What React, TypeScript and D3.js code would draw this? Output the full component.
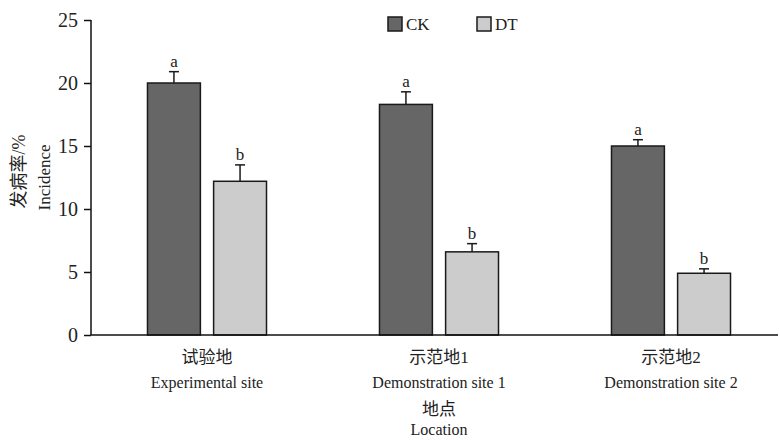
import React, { useEffect, useRef } from 'react';
import * as d3 from 'd3';

const sitesZh = ['试验地', '示范地1', '示范地2'];
const sitesEn = ['Experimental site', 'Demonstration site 1', 'Demonstration site 2'];
const groups = ['CK', 'DT'];
const ckValues = [20.0, 18.3, 15.0];
const ckErrors = [0.9, 1.0, 0.5];
const dtValues = [12.2, 6.6, 4.9];
const dtErrors = [1.3, 0.65, 0.35];
const ckLetters = ['a', 'a', 'a'];
const dtLetters = ['b', 'b', 'b'];
const yTicks = [0, 5, 10, 15, 20, 25];

const colors: Record<string, string> = { CK: '#666666', DT: '#cccccc' };
const FONT = 'Liberation Serif, DejaVu Serif, Noto Sans CJK SC, serif';

export default function App() {
    const svgRef = useRef<SVGSVGElement>(null);

    useEffect(() => {
        const svg = d3.select(svgRef.current);
        svg.selectAll('*').remove();

        const width = 780;
        const height = 440;
        const margin = { top: 20, right: 2, bottom: 105, left: 91 };
        const y0 = height - margin.bottom;

        const y = d3.scaleLinear().domain([0, 25]).range([y0, margin.top]);

        const x = d3.scaleBand<string>()
            .domain(sitesZh)
            .range([margin.left, margin.left + 696])
            .paddingInner(0.487)
            .paddingOuter(0.2435);

        const xSub = d3.scaleBand<string>()
            .domain(groups)
            .range([0, x.bandwidth()])
            .paddingInner(0.2);

        const rows = sitesZh.flatMap((s, i) => [
            { site: s, key: 'CK', value: ckValues[i], err: ckErrors[i], letter: ckLetters[i] },
            { site: s, key: 'DT', value: dtValues[i], err: dtErrors[i], letter: dtLetters[i] }
        ]);

        const g = svg.append('g');

        const label = (xx: number, yy: number, txt: string, size = 16, anchor = 'middle') =>
            g.append('text')
                .attr('x', xx).attr('y', yy)
                .attr('text-anchor', anchor)
                .attr('font-family', FONT)
                .attr('font-size', size)
                .attr('fill', '#222')
                .text(txt);

        // Bars
        g.selectAll('rect.bar')
            .data(rows)
            .enter()
            .append('rect')
            .attr('class', 'bar')
            .attr('x', (d) => (x(d.site) as number) + (xSub(d.key) as number))
            .attr('y', (d) => y(d.value))
            .attr('width', xSub.bandwidth())
            .attr('height', (d) => y0 - y(d.value))
            .attr('fill', (d) => colors[d.key])
            .attr('stroke', '#1a1a1a')
            .attr('stroke-width', 1.5);

        // Error bars
        const cx = (d: any) => (x(d.site) as number) + (xSub(d.key) as number) + xSub.bandwidth() / 2;
        const eb = g.selectAll('g.err').data(rows).enter().append('g').attr('class', 'err');
        eb.append('line')
            .attr('x1', cx).attr('x2', cx)
            .attr('y1', (d) => y(d.value)).attr('y2', (d) => y(d.value + d.err))
            .attr('stroke', '#1a1a1a').attr('stroke-width', 1.5);
        eb.append('line')
            .attr('x1', (d) => cx(d) - 5).attr('x2', (d) => cx(d) + 5)
            .attr('y1', (d) => y(d.value + d.err)).attr('y2', (d) => y(d.value + d.err))
            .attr('stroke', '#1a1a1a').attr('stroke-width', 1.5);
        eb.append('text')
            .attr('x', cx)
            .attr('y', (d) => y(d.value + d.err) - 5)
            .attr('text-anchor', 'middle')
            .attr('font-family', FONT)
            .attr('font-size', 17)
            .attr('fill', '#222')
            .text((d) => d.letter);

        // Y axis
        const yAxis = g.append('g')
            .attr('transform', `translate(${margin.left},0)`)
            .call(d3.axisLeft(y).tickValues(yTicks).tickSize(7).tickPadding(6));
        yAxis.attr('font-family', FONT);
        yAxis.select('.domain').attr('stroke', '#111').attr('stroke-width', 1.5).attr('d', `M0,${margin.top}V${y0}`);
        yAxis.selectAll('.tick line').attr('stroke', '#111').attr('stroke-width', 1.5);
        yAxis.selectAll('.tick text')
            .attr('font-size', 20)
            .attr('font-family', FONT)
            .attr('fill', '#222');

        // X axis line
        g.append('line')
            .attr('x1', margin.left).attr('x2', width - margin.right)
            .attr('y1', y0).attr('y2', y0)
            .attr('stroke', '#111').attr('stroke-width', 1.5);

        // X labels
        sitesZh.forEach((s, i) => {
            const c = (x(s) as number) + x.bandwidth() / 2;
            label(c, 363, s, 17);
            label(c, 388, sitesEn[i], 16);
        });

        const cMid = (x(sitesZh[1]) as number) + x.bandwidth() / 2;
        label(cMid, 415, '地点', 17);
        label(cMid, 435, 'Location', 16);

        // Y label
        const yMid = (margin.top + y0) / 2;
        g.append('text')
            .attr('transform', `translate(25,${yMid - 6}) rotate(-90)`)
            .attr('text-anchor', 'middle')
            .attr('font-family', FONT)
            .attr('font-size', 18).attr('fill', '#222').text('发病率/%');
        g.append('text')
            .attr('transform', `translate(50,${yMid}) rotate(-90)`)
            .attr('text-anchor', 'middle')
            .attr('font-family', FONT)
            .attr('font-size', 17).attr('fill', '#222').text('Incidence');

        // Legend
        const legendX = [388, 477];
        groups.forEach((k, i) => {
            g.append('rect')
                .attr('x', legendX[i]).attr('y', 17)
                .attr('width', 14).attr('height', 14)
                .attr('fill', colors[k]).attr('stroke', '#1a1a1a').attr('stroke-width', 1.5);
            label(legendX[i] + 18, 30, k, 17, 'start');
        });
    }, []);

    return (
        <svg
            ref={svgRef}
            width={780}
            height={440}
            style={{ position: 'absolute', left: 0, top: 0, background: '#fff' }}
        />
    );
}
